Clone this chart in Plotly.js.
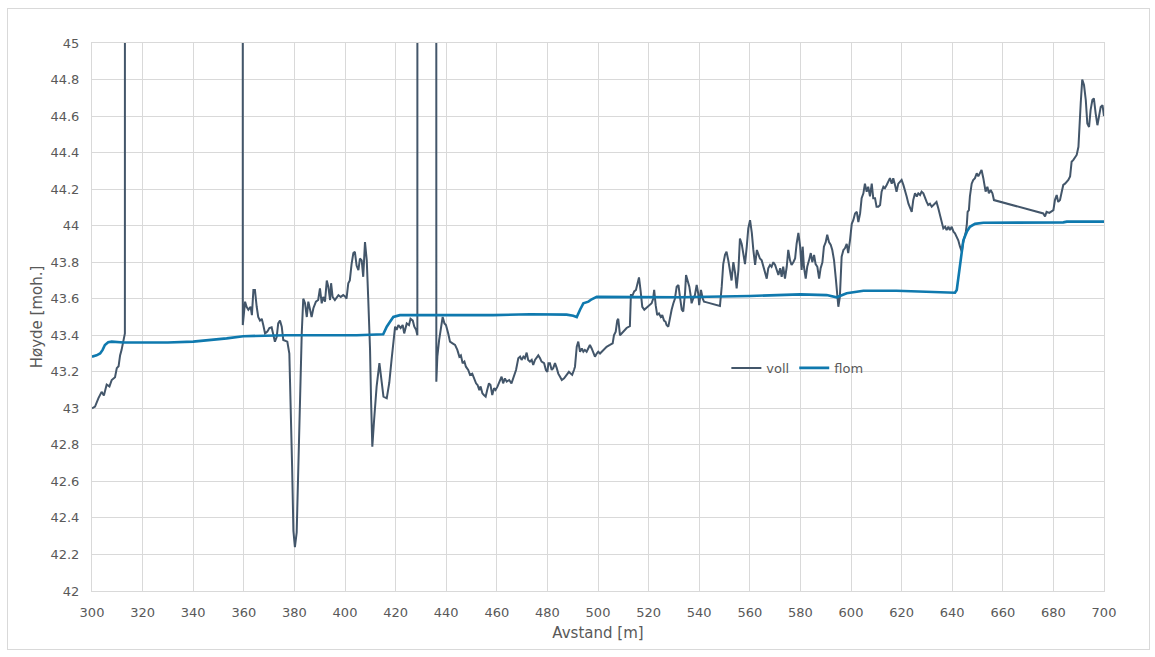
<!DOCTYPE html>
<html>
<head>
<meta charset="utf-8">
<script src="https://cdn.plot.ly/plotly-3.0.1.min.js"></script>
<style>
  body { margin: 0; background: #ffffff; }
  #frame { position: absolute; left: 7px; top: 8px; width: 1141px; height: 640px; border: 1px solid #d9d9d9; }
  #chart { width: 1141px; height: 640px; }
</style>
</head>
<body>
<div id="frame"><div id="chart"></div></div>
<script>
// Distance [m] and height [moh.] for "voll" (values above the axis range are off-scale readings)
const vollX = [300.0,301.2,302.5,303.8,304.7,305.8,306.9,307.8,309.1,309.8,310.5,311.1,311.7,312.4,313.0,313.1,
359.5,359.6,360.5,361.1,361.8,362.7,363.2,363.8,364.4,365.1,365.7,366.4,367.1,367.7,368.4,369.3,370.1,371.0,371.7,372.3,373.0,373.6,374.3,375.0,375.6,376.3,377.2,378.0,378.3,378.7,379.1,379.6,380.2,380.9,381.5,382.2,382.9,383.5,384.2,384.9,385.5,386.2,386.8,387.5,388.5,389.4,390.1,390.8,391.4,392.1,392.8,393.4,394.1,394.5,395.1,396.0,396.7,397.4,398.3,399.3,400.2,400.6,401.3,401.9,402.6,403.3,403.9,404.6,405.3,405.9,406.6,407.2,407.9,408.6,409.2,409.9,410.3,410.8,411.5,412.5,413.6,414.5,415.2,416.5,417.5,418.4,419.1,419.8,420.4,421.1,422.0,422.8,423.4,424.4,425.3,425.9,426.8,427.4,428.1,428.6,428.7,
436.0,436.1,436.5,437.2,438.0,438.6,439.3,439.9,440.8,441.5,442.5,443.5,444.4,445.2,445.8,446.5,447.2,447.8,448.7,449.4,450.3,451.0,451.8,452.4,453.1,453.6,454.3,454.9,455.6,456.2,456.9,457.5,458.2,458.9,459.5,460.3,461.2,461.9,462.5,463.2,463.9,464.9,465.8,466.8,467.6,468.5,469.2,469.8,470.5,471.1,471.8,472.4,473.1,473.8,474.4,475.1,475.8,476.4,477.1,477.7,478.7,479.4,480.0,480.4,481.0,481.7,482.3,483.0,483.7,484.3,485.0,485.7,486.6,487.6,488.5,489.2,489.8,490.5,490.9,491.6,492.2,492.9,493.6,494.2,494.8,495.5,496.2,496.8,497.5,498.2,498.8,499.5,500.1,
500.8,502.1,503.4,504.7,505.8,506.3,507.0,507.6,508.0,508.7,510.0,511.3,512.6,513.0,513.7,514.3,515.0,515.7,516.2,516.8,517.5,518.3,519.2,520.3,521.2,521.8,522.2,522.8,523.4,524.1,524.8,525.4,526.1,526.7,527.1,527.8,528.5,529.1,529.8,530.4,531.1,531.8,532.4,533.1,533.7,534.4,534.8,535.4,536.1,536.6,537.0,537.6,538.3,539.0,539.6,540.0,540.7,541.4,541.9,543.0,544.3,545.6,546.9,548.2,548.9,549.5,550.2,550.8,551.5,552.2,552.8,553.5,554.2,554.8,555.5,556.1,556.8,557.4,558.1,558.8,559.4,560.1,560.8,561.4,562.1,562.8,563.4,564.0,564.7,565.3,566.0,566.7,567.3,568.0,568.6,569.3,570.0,570.6,571.3,572.0,572.6,573.2,573.9,574.6,575.2,575.9,576.5,577.2,577.9,578.5,579.2,579.9,580.5,580.9,581.4,582.1,582.7,583.4,584.1,584.7,585.4,586.0,586.7,587.4,588.0,588.7,589.3,590.0,590.6,591.3,592.0,592.6,593.3,594.0,594.3,595.0,595.6,596.3,597.0,597.6,598.3,598.9,599.6,
600.3,600.9,601.6,602.3,602.9,603.6,604.2,604.9,605.5,606.2,606.8,607.5,608.2,608.8,609.5,610.1,610.8,611.5,612.1,612.8,613.4,614.1,614.7,615.4,616.1,616.7,617.4,618.0,618.7,619.4,620.0,620.7,621.3,622.0,622.7,623.3,624.0,624.6,625.3,626.0,626.6,627.3,627.9,628.6,629.2,629.9,630.5,631.2,631.9,632.5,633.2,633.8,634.5,635.2,635.8,636.5,637.2,637.8,638.5,639.1,639.8,640.5,641.1,641.8,642.4,643.1,643.8,644.2,644.7,645.4,645.8,646.1,646.6,647.0,647.7,648.3,649.0,649.7,650.3,651.0,651.6,652.3,652.7,653.2,653.9,654.5,655.2,655.9,656.5,
676.0,676.7,677.3,678.4,679.3,680.0,680.6,681.3,681.9,682.6,683.3,683.9,684.6,685.3,685.9,686.6,687.2,687.9,688.5,689.2,689.9,690.2,690.8,691.4,692.1,692.8,693.4,694.1,694.7,695.4,696.0,696.7,697.4,698.0,698.7,699.4,700.0];

const vollY = [43.00,43.01,43.055,43.09,43.07,43.13,43.12,43.155,43.17,43.22,43.23,43.29,43.32,43.37,43.41,60,
60,43.456,43.584,43.556,43.54,43.556,43.51,43.648,43.648,43.556,43.50,43.48,43.49,43.456,43.41,43.42,43.44,43.444,43.40,43.365,43.39,43.465,43.48,43.447,43.374,43.37,43.365,43.30,43.155,42.86,42.68,42.33,42.24,42.32,42.68,43.046,43.41,43.60,43.575,43.50,43.584,43.54,43.50,43.548,43.584,43.593,43.657,43.575,43.61,43.584,43.70,43.666,43.593,43.685,43.61,43.593,43.61,43.62,43.61,43.62,43.61,43.60,43.685,43.70,43.79,43.85,43.857,43.78,43.757,43.82,43.81,43.72,43.91,43.81,43.593,43.32,43.046,42.79,42.936,43.12,43.247,43.155,43.064,43.055,43.14,43.265,43.356,43.447,43.43,43.456,43.44,43.456,43.41,43.465,43.456,43.49,43.48,43.447,43.43,43.40,60,
60,43.146,43.283,43.374,43.465,43.50,43.465,43.456,43.41,43.365,43.356,43.347,43.32,43.283,43.29,43.247,43.256,43.228,43.21,43.183,43.19,43.164,43.137,43.128,43.10,43.12,43.082,43.073,43.064,43.10,43.137,43.128,43.073,43.11,43.10,43.12,43.146,43.173,43.137,43.164,43.146,43.155,43.137,43.173,43.21,43.274,43.283,43.265,43.283,43.274,43.305,43.265,43.256,43.265,43.237,43.265,43.283,43.29,43.274,43.256,43.247,43.21,43.20,43.247,43.247,43.21,43.22,43.247,43.22,43.19,43.173,43.155,43.164,43.183,43.20,43.19,43.183,43.21,43.228,43.337,43.365,43.31,43.328,43.31,43.32,43.31,43.328,43.347,43.328,43.30,43.283,43.30,43.31,
43.30,43.32,43.337,43.347,43.356,43.40,43.42,43.48,43.49,43.40,43.42,43.44,43.45,43.62,43.62,43.64,43.648,43.685,43.717,43.648,43.556,43.54,43.55,43.565,43.575,43.60,43.648,43.565,43.51,43.52,43.50,43.51,43.48,43.474,43.456,43.447,43.50,43.54,43.575,43.60,43.666,43.675,43.61,43.54,43.53,43.63,43.73,43.70,43.666,43.62,43.575,43.60,43.62,43.675,43.63,43.565,43.648,43.60,43.584,43.58,43.575,43.57,43.565,43.56,43.666,43.79,43.84,43.857,43.81,43.74,43.70,43.80,43.74,43.657,43.757,43.93,43.90,43.85,43.79,43.885,43.985,44.03,43.96,43.867,43.785,43.867,43.84,43.82,43.81,43.775,43.74,43.71,43.767,43.785,43.775,43.80,43.785,43.757,43.73,43.767,43.72,43.775,43.71,43.775,43.867,43.81,43.785,43.80,43.82,43.90,43.96,43.885,43.757,43.885,43.775,43.71,43.775,43.81,43.85,43.80,43.84,43.79,43.775,43.71,43.767,43.80,43.885,43.91,43.95,43.91,43.894,43.867,43.81,43.71,43.65,43.556,43.61,43.83,43.867,43.876,43.90,43.85,43.92,
44.01,44.03,44.067,44.076,44.02,44.067,44.15,44.177,44.23,44.186,44.213,44.16,44.23,44.15,44.15,44.104,44.104,44.113,44.186,44.213,44.205,44.223,44.24,44.26,44.23,44.26,44.223,44.186,44.23,44.24,44.25,44.223,44.186,44.16,44.12,44.095,44.076,44.14,44.177,44.16,44.177,44.168,44.186,44.177,44.15,44.13,44.113,44.12,44.104,44.113,44.12,44.13,44.095,44.06,44.03,43.985,43.994,43.976,43.994,43.976,43.994,43.967,43.958,43.94,43.92,43.885,43.857,43.90,43.93,43.967,44.01,44.076,44.085,44.16,44.23,44.25,44.26,44.287,44.27,44.287,44.305,44.26,44.23,44.186,44.213,44.177,44.195,44.177,44.14,
44.067,44.05,44.076,44.07,44.076,44.085,44.14,44.168,44.13,44.14,44.186,44.223,44.23,44.24,44.25,44.27,44.35,44.36,44.37,44.387,44.432,44.54,44.67,44.80,44.77,44.688,44.56,44.54,44.633,44.688,44.697,44.615,44.55,44.596,44.65,44.66,44.60];

// Distance [m] and height [moh.] for "flom"
const flomX = [300,301.8,303.2,304.2,305.1,306.4,307.8,312.4,330,340,353.2,359.8,376.9,404.6,415.1,416.5,417.8,419.1,421.7,458.6,473.1,479.7,487.6,490.2,491.6,492.9,494.2,496.2,497.5,499.5,532.4,560.1,579.9,590.4,594.3,598.3,604.9,618.0,631.2,641.1,641.8,643.1,643.8,644.4,645.8,647.0,649.0,652.3,683.9,685.3,700];
const flomY = [43.283,43.29,43.30,43.32,43.347,43.362,43.365,43.36,43.36,43.365,43.383,43.395,43.40,43.40,43.405,43.447,43.474,43.50,43.51,43.51,43.515,43.515,43.513,43.507,43.50,43.54,43.575,43.584,43.597,43.61,43.608,43.615,43.624,43.62,43.608,43.63,43.644,43.644,43.64,43.633,43.648,43.775,43.867,43.92,43.967,43.994,44.01,44.016,44.018,44.022,44.022];

const seriesNames = ['voll', 'flom'];
const xTitle = 'Avstand [m]';
const yTitle = 'Høyde [moh.]';

const textColor = '#595959';
const gridColor = '#d9d9d9';
const fontFamily = '"DejaVu Sans", Verdana, sans-serif';

const traces = [
  { x: vollX, y: vollY, name: seriesNames[0], type: 'scatter', mode: 'lines',
    line: { color: '#43566A', width: 2 } },
  { x: flomX, y: flomY, name: seriesNames[1], type: 'scatter', mode: 'lines',
    line: { color: '#0F79AE', width: 2.6 } }
];

const layout = {
  width: 1141, height: 640,
  margin: { l: 84, r: 45, t: 34, b: 58 },
  paper_bgcolor: '#ffffff', plot_bgcolor: '#ffffff',
  font: { family: fontFamily, size: 13, color: textColor },
  showlegend: true,
  legend: { orientation: 'h', x: 0.697, y: 0.407, xanchor: 'center', yanchor: 'middle',
            bgcolor: 'rgba(0,0,0,0)', font: { size: 13, color: textColor }, itemwidth: 30 },
  xaxis: {
    range: [300, 700], dtick: 20, tick0: 300,
    showgrid: true, gridcolor: gridColor, gridwidth: 1,
    showline: true, linecolor: gridColor, mirror: true, zeroline: false,
    ticks: 'outside', ticklen: 9, tickcolor: 'rgba(0,0,0,0)',
    tickfont: { size: 13, color: textColor },
    title: { text: xTitle, font: { size: 15, color: textColor }, standoff: 8 }
  },
  yaxis: {
    range: [42, 45], dtick: 0.2, tick0: 42,
    showgrid: true, gridcolor: gridColor, gridwidth: 1,
    showline: true, linecolor: gridColor, mirror: true, zeroline: false,
    ticks: 'outside', ticklen: 9, tickcolor: 'rgba(0,0,0,0)',
    tickfont: { size: 13, color: textColor },
    title: { text: yTitle, font: { size: 15, color: textColor }, standoff: 4 }
  },
  hovermode: false
};

Plotly.newPlot('chart', traces, layout, { displayModeBar: false, staticPlot: true });
</script>
</body>
</html>
